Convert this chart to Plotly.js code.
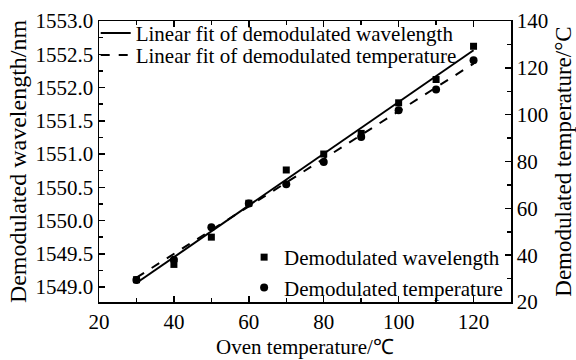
<!DOCTYPE html>
<html>
<head>
<meta charset="utf-8">
<script src="https://cdn.plot.ly/plotly-3.0.1.min.js"></script>
<style>html,body{margin:0;padding:0;background:#fff;}#chart{width:576px;height:360px;}</style>
</head>
<body>
<div id="chart"></div>
<script>
// Data
const ovenTemp = [30, 40, 50, 60, 70, 80, 90, 100, 110, 120];
const demodWavelength = [1549.11, 1549.34, 1549.75, 1550.26, 1550.76, 1551.00, 1551.31, 1551.77, 1552.12, 1552.62];
const demodTemperature = [29.4, 38.0, 51.9, 62.1, 70.3, 79.8, 90.5, 101.9, 110.7, 123.2];
const fitX = [30, 120];
const fitWavelength = [1549.06, 1552.56];
const fitTemperature = [30.4, 121.8];

const FONT = 'Liberation Serif, Times New Roman, serif';

const traces = [
  {x: fitX, y: fitWavelength, mode: 'lines', name: 'Linear fit of demodulated wavelength',
   line: {color: '#000', width: 2}, legend: 'legend', yaxis: 'y'},
  {x: fitX, y: fitTemperature, mode: 'lines', name: 'Linear fit of demodulated temperature',
   line: {color: '#000', width: 2, dash: 'dash'}, legend: 'legend3', yaxis: 'y2'},
  {x: ovenTemp, y: demodWavelength, mode: 'markers', name: 'Demodulated wavelength',
   marker: {symbol: 'square', size: 7, color: '#000'}, legend: 'legend2', yaxis: 'y'},
  {x: ovenTemp, y: demodTemperature, mode: 'markers', name: 'Demodulated temperature',
   marker: {symbol: 'circle', size: 8, color: '#000'}, legend: 'legend2', yaxis: 'y2'}
];

const legendCommon = {bgcolor: 'rgba(0,0,0,0)', borderwidth: 0, font: {family: FONT, size: 21, color: '#000'}, xanchor: 'left', yanchor: 'middle'};

const layout = {
  width: 576, height: 360,
  margin: {l: 99, r: 65, t: 21, b: 58, pad: 0},
  paper_bgcolor: '#fff', plot_bgcolor: '#fff',
  font: {family: FONT, size: 21, color: '#000'},
  xaxis: {
    range: [20, 130], tick0: 20, dtick: 20, ticks: 'inside', ticklen: 6, tickwidth: 1.5, tickcolor: '#000',
    showline: true, linecolor: '#000', linewidth: 1.5, mirror: 'ticks', showgrid: false, zeroline: false,
    minor: {dtick: 10, ticks: 'inside', ticklen: 4, tickwidth: 1.5, tickcolor: '#000'},
    tickfont: {family: FONT, size: 21},
    title: {text: 'Oven temperature/℃', font: {family: FONT, size: 21}, standoff: 6}
  },
  yaxis: {
    range: [1548.775, 1553.0], tick0: 1549, dtick: 0.5, tickformat: '.1f', ticks: 'inside', ticklen: 6, tickwidth: 1.5, tickcolor: '#000',
    showline: true, linecolor: '#000', linewidth: 1.5, showgrid: false, zeroline: false,
    minor: {dtick: 0.25, ticks: 'inside', ticklen: 4, tickwidth: 1.5, tickcolor: '#000'},
    tickfont: {family: FONT, size: 21},
    title: {text: 'Demodulated wavelength/nm', font: {family: FONT, size: 24}, standoff: 2}
  },
  yaxis2: {
    overlaying: 'y', side: 'right',
    range: [20, 140], tick0: 20, dtick: 20, ticks: 'inside', ticklen: 6, tickwidth: 1.5, tickcolor: '#000',
    showline: true, linecolor: '#000', linewidth: 1.5, showgrid: false, zeroline: false,
    minor: {dtick: 10, ticks: 'inside', ticklen: 4, tickwidth: 1.5, tickcolor: '#000'},
    tickfont: {family: FONT, size: 21},
    title: {text: 'Demodulated temperature/°C', font: {family: FONT, size: 23}, standoff: 14}
  },
  legend: Object.assign({}, legendCommon, {x: -0.008, y: 0.956}),
  legend3: Object.assign({}, legendCommon, {x: -0.008, y: 0.878}),
  legend2: Object.assign({}, legendCommon, {x: 0.993, y: 0.105, xanchor: 'right'}),
  showlegend: true
};

Plotly.newPlot('chart', traces, layout, {staticPlot: true, displayModeBar: false});
</script>
</body>
</html>
